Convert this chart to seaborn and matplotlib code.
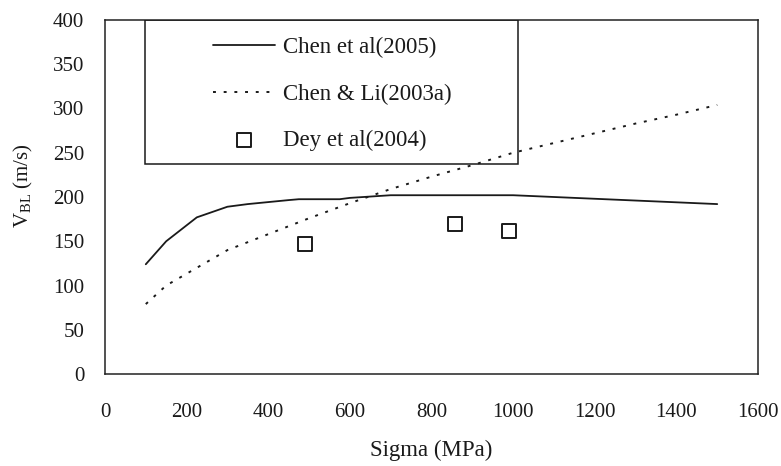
import matplotlib
matplotlib.use("Agg")
import matplotlib.pyplot as plt
import seaborn as sns
from matplotlib.patches import Rectangle

# values
chen2005_sigma = [100, 150, 225, 300, 350, 450, 475, 575, 600, 700, 1000, 1250, 1500]
chen2005_v = [124, 150, 177, 189, 192, 196.5, 197.5, 197.5, 199, 202, 202, 197, 192]

chenli_sigma = [100, 150, 225, 300, 400, 500, 600, 700, 800, 900, 1000, 1100, 1200, 1300, 1400, 1500]
chenli_v = [79, 100, 120, 140, 158, 176, 193, 209, 223, 236, 250, 261, 272, 283, 293, 304]

dey_sigma = [490, 858, 990]
dey_v = [147, 170, 162]

x_ticks = [0, 200, 400, 600, 800, 1000, 1200, 1400, 1600]
y_ticks = [0, 50, 100, 150, 200, 250, 300, 350, 400]

sns.set_theme(style="white")
plt.rcParams["font.family"] = ["Liberation Serif", "DejaVu Serif"]
plt.rcParams["mathtext.fontset"] = "custom"
plt.rcParams["mathtext.rm"] = "Liberation Serif"
plt.rcParams["axes.edgecolor"] = "#222222"
plt.rcParams["axes.linewidth"] = 1.1

fig = plt.figure(figsize=(7.81, 4.66), dpi=100)
ax = fig.add_axes([0.1344, 0.1974, 0.8362, 0.7597])

sns.lineplot(x=chen2005_sigma, y=chen2005_v, color="#1a1a1a", linewidth=1.3,
             label="Chen et al(2005)", ax=ax)
sns.lineplot(x=chenli_sigma, y=chenli_v, color="#1a1a1a", linewidth=1.4,
             linestyle=(0, (1.5, 4.0)), label="Chen & Li(2003a)", ax=ax)
sns.scatterplot(x=dey_sigma, y=dey_v, marker="s", s=110, facecolor="white",
                edgecolor="#1a1a1a", linewidth=1.4, label="Dey et al(2004)", ax=ax, zorder=3)

ax.set_xlim(0, 1600)
ax.set_ylim(0, 400)
ax.set_xticks(x_ticks)
ax.set_yticks(y_ticks)
ax.tick_params(axis="x", direction="in", length=6, width=1.1, pad=21, labelsize=15,
               colors="#1a1a1a")
ax.tick_params(axis="y", direction="in", length=6, width=1.1, pad=15, labelsize=15,
               colors="#1a1a1a")
for side in ["top", "right", "left", "bottom"]:
    ax.spines[side].set_visible(True)

ax.set_xlabel("Sigma (MPa)", fontsize=16.5, color="#1a1a1a")
ax.set_ylabel(r"V$_{\mathrm{BL}}$ (m/s)", fontsize=15, color="#1a1a1a")
ax.xaxis.set_label_coords(0.5, -0.185)
ax.yaxis.set_label_coords(-0.107, 0.531)

# legend box as in the reference
ax.add_patch(Rectangle((0.0613, 0.593), 0.5707, 0.407, transform=ax.transAxes,
                       fill=False, edgecolor="#1a1a1a", linewidth=1.1, zorder=4))
leg = ax.legend(loc="upper left", bbox_to_anchor=(0.1654, 0.951), frameon=False,
                fontsize=16.5, handlelength=2.7, handletextpad=0.35, labelspacing=1.1,
                borderpad=0, borderaxespad=0)
for t in leg.get_texts():
    t.set_color("#1a1a1a")

fig.savefig("out.png", dpi=100)
